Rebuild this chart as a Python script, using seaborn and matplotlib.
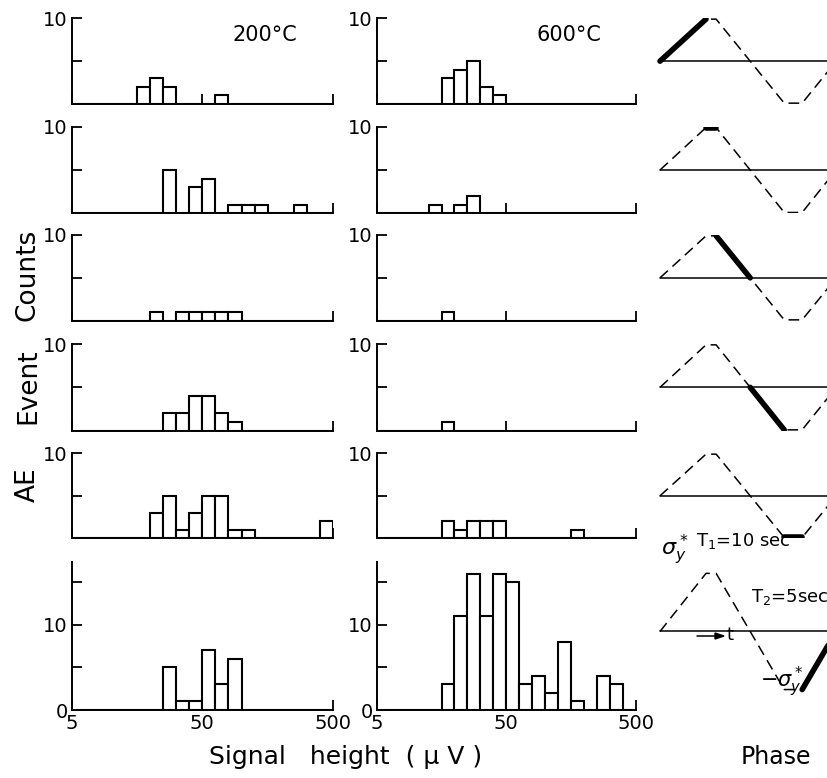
import numpy as np
import matplotlib.pyplot as plt
import seaborn as sns

# signal height bins: bin k spans 5*10**(k/10) .. 5*10**((k+1)/10) uV
bins_200 = [
    [5, 6, 7, 11],
    [7, 9, 10, 12, 13, 14, 17],
    [6, 8, 9, 10, 11, 12],
    [7, 8, 9, 10, 11, 12],
    [6, 7, 8, 9, 10, 11, 12, 13, 19],
    [7, 8, 9, 10, 11, 12],
]
counts_200 = [
    [2, 3, 2, 1],
    [5, 3, 4, 1, 1, 1, 1],
    [1, 1, 1, 1, 1, 1],
    [2, 2, 4, 4, 2, 1],
    [3, 5, 1, 3, 5, 5, 1, 1, 2],
    [5, 1, 1, 7, 3, 6],
]
bins_600 = [
    [5, 6, 7, 8, 9],
    [4, 6, 7],
    [5],
    [5],
    [5, 6, 7, 8, 9, 15],
    [5, 6, 7, 8, 9, 10, 11, 12, 13, 14, 15, 17, 18],
]
counts_600 = [
    [3, 4, 5, 2, 1],
    [1, 1, 2],
    [1],
    [1],
    [2, 1, 2, 2, 2, 1],
    [3, 11, 16, 11, 16, 15, 3, 4, 2, 8, 1, 4, 3],
]

# loading wave (time, stress / sigma_y*)
phase_t = [0, 10, 12.2, 19.6, 27, 30.9, 38.3]
phase_v = [0, 1, 1, 0, -1, -1, 0]

W, H = 827, 778
sns.set_style("ticks")
plt.rcParams["font.family"] = ["DejaVu Sans"]
for key in ["text.color", "axes.labelcolor", "xtick.color", "ytick.color",
            "axes.edgecolor"]:
    plt.rcParams[key] = "black"

fig = plt.figure(figsize=(W / 100, H / 100), dpi=100)

rows_px = [(18.3, 104), (126.7, 213.3), (235, 320.7), (344, 430.7),
           (453.3, 538.3), (561.7, 710)]
cols_px = [(71.7, 333), (376.7, 636)]


def fig_rect(x0, x1, top, bot):
    return [x0 / W, 1 - bot / H, (x1 - x0) / W, (bot - top) / H]


edges_log = (np.log10(5), np.log10(500))

for r, (top, bot) in enumerate(rows_px):
    for c, (bins, counts) in enumerate([(bins_200, counts_200), (bins_600, counts_600)]):
        ax = fig.add_axes(fig_rect(cols_px[c][0], cols_px[c][1], top, bot))
        x = [5 * 10 ** ((k + 0.5) / 10) for k in bins[r]]
        sns.histplot(x=x, weights=counts[r], bins=20, binrange=edges_log,
                     log_scale=True, color="white", edgecolor="black",
                     linewidth=1.5, alpha=1, ax=ax)
        sns.despine(ax=ax)
        ax.set_xlim(5, 500)
        ax.set_xticks([5, 50, 500])
        ax.xaxis.set_minor_locator(plt.NullLocator())
        ax.set_xlabel("")
        ax.set_ylabel("")
        for s in ax.spines.values():
            s.set_linewidth(1.4)
        ax.tick_params(direction="in", length=7, width=1.3, labelsize=14, pad=3)
        if r < 5:
            ax.set_ylim(0, 10)
            ax.set_yticks([5, 10])
            ax.set_yticklabels(["", "10"])
            ax.tick_params(labelbottom=False)
        else:
            ax.set_ylim(0, 17.4)
            ax.set_yticks([0, 5, 10, 15])
            ax.set_yticklabels(["0", "", "10", ""])
            ax.set_xticklabels(["5", "50", "500"])
        ax.patch.set_alpha(0)

    # phase panel
    if r < 5:
        pax = fig.add_axes(fig_rect(655, 827, top, bot))
        pax.set_ylim(-1.02, 1.02)
    else:
        pax = fig.add_axes(fig_rect(655, 827, 560, 700))
        pax.set_ylim(-1.18, 1.23)
    pax.set_xlim(-1.09, 36.3)
    pax.set_axis_off()
    sns.lineplot(x=phase_t, y=phase_v, sort=False, color="black",
                 linewidth=1.1, ax=pax).lines[-1].set_dashes([7, 4])
    sns.lineplot(x=[0, 40], y=[0, 0], color="black", linewidth=1.1, ax=pax)
    sns.lineplot(x=phase_t[r:r + 2], y=phase_v[r:r + 2], sort=False,
                 color="black", linewidth=4, ax=pax)

# texts
fig.text(265 / W, 1 - 35 / H, "200°C", fontsize=15, ha="center", va="center")
fig.text(569 / W, 1 - 35 / H, "600°C", fontsize=15, ha="center", va="center")
for word, yp in [("Counts", 275), ("Event", 386), ("AE", 485)]:
    fig.text(28 / W, 1 - yp / H, word, fontsize=19, rotation=90,
             ha="center", va="center")
fig.text(346 / W, 1 - 757 / H, "Signal   height  ( μ V )", fontsize=18,
         ha="center", va="center")
fig.text(776 / W, 1 - 757 / H, "Phase", fontsize=17, ha="center", va="center")

fig.text(675 / W, 1 - 550 / H, r"$\sigma_y^*$", fontsize=16, ha="center", va="center")
fig.text(696 / W, 1 - 541 / H, r"T$_1$=10 sec", fontsize=13, ha="left", va="center")
fig.text(751 / W, 1 - 597 / H, r"T$_2$=5sec", fontsize=13, ha="left", va="center")
fig.text(760 / W, 1 - 682 / H, r"$-\sigma_y^*$", fontsize=15, ha="left", va="center")
fig.text(730 / W, 1 - 635 / H, "t", fontsize=13, ha="center", va="center")
fig.add_artist(plt.Line2D([697 / W, 720 / W], [1 - 636 / H, 1 - 636 / H],
                          color="black", linewidth=1.1))
fig.add_artist(plt.Polygon([[724 / W, 1 - 636 / H], [715 / W, 1 - 633 / H],
                            [715 / W, 1 - 639 / H]], closed=True, color="black"))

fig.savefig("out.png", dpi=100)
